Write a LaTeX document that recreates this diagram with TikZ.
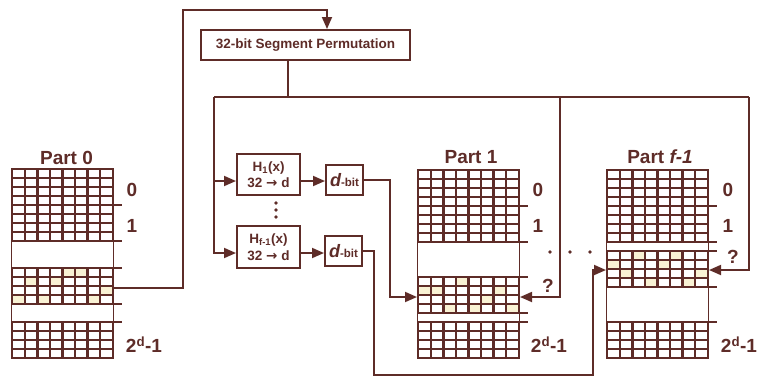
\documentclass[tikz,border=0pt]{standalone}
\usepackage{fontspec}
\setmainfont{Liberation Sans}
\newfontfamily\arrfont{DejaVu Sans}
\usetikzlibrary{arrows.meta,positioning}

\definecolor{brn}{RGB}{94,44,40}
\definecolor{hilite}{RGB}{249,242,212}

% one block of 8 columns: left, top, rows
\newcommand{\cellblock}[3]{%
  \fill[brn] (#1,#2) rectangle (#1+103,#2+#3*9+2.4);
  \foreach \c in {0,...,7}
    \foreach \r in {1,...,#3}
      \fill[white] (#1+2.4+\c*12.575,#2+\r*9-6.6) rectangle ++(10.175,6.6);
}
% a marked cell: left, top, column, row
\newcommand{\hicell}[4]{%
  \fill[hilite] (#1+2.4+#3*12.575,#2+2.4+#4*9) rectangle ++(10.175,6.6);
}
\newcommand{\dbit}{{\fontsize{18}{18}\selectfont\itshape d}\fontsize{11.5}{11.5}\selectfont -bit}
\newcommand{\maps}{{\arrfont →}}

\begin{document}
\begin{tikzpicture}[x=1pt,y=-1pt,
  conn/.style={draw=brn,line width=1.8pt},
  arr/.style={conn,-{Triangle[length=12pt,width=10pt]}},
  box/.style={draw=brn,line width=2pt,fill=white,inner sep=0pt,text=brn},
  tickln/.style={draw=brn,line width=1.5pt},
  side/.style={draw=brn,line width=0.8pt},
  lbl/.style={text=brn,inner sep=0pt,font=\fontsize{19}{19}\selectfont\bfseries}]

  \useasboundingbox (0,0) rectangle (758,376);

  % Part 0
  \draw[side] (11.4,169) -- (11.4,359) (113.6,169) -- (113.6,359);
  \cellblock{11}{168}{8}
  \cellblock{11}{267}{4}
  \cellblock{11}{321}{4}
  \foreach \c/\r in {4/0,5/0,1/1,3/1,7/2,0/3,2/3,6/3}
    \hicell{11}{267}{\c}{\r};
  \foreach \y in {205.2,241.2,268.2,304.2,322.2}
    \draw[tickln] (114,\y) -- ++(8,0);

  % Part 1
  \draw[side] (417.4,170) -- (417.4,359) (519.6,170) -- (519.6,359);
  \cellblock{417}{169}{8}
  \cellblock{417}{276}{4}
  \cellblock{417}{321}{4}
  \foreach \c/\r in {3/0,0/1,1/1,6/1,5/2,2/3,4/3,7/3}
    \hicell{417}{276}{\c}{\r};
  \foreach \y in {206.2,242.2,277.2,313.2,322.2}
    \draw[tickln] (520,\y) -- ++(8,0);

  % Part f-1
  \draw[side] (606.4,170) -- (606.4,359) (708.6,170) -- (708.6,359);
  \cellblock{606}{169}{8}
  \cellblock{606}{250}{4}
  \cellblock{606}{321}{4}
  \foreach \c/\r in {2/0,5/0,0/1,4/1,1/2,7/2,3/3,6/3}
    \hicell{606}{250}{\c}{\r};
  \foreach \y in {206.2,242.2,251.2,287.2,322.2}
    \draw[tickln] (709,\y) -- ++(8,0);

  % labels
  \node[lbl] (part0) at (66.5,158) {Part 0};
  \node[lbl] (part1) at (471,157) {Part 1};
  \node[lbl] (partf) at (660,157) {Part \textit{f-1}};
  \node[lbl] (p0a) at (132,190) {0};
  \node[lbl] (p0b) at (132,226) {1};
  \node[lbl] (p0c) at (144,345) {2\textsuperscript{d}-1};
  \node[lbl] (p1a) at (538,190) {0};
  \node[lbl] (p1b) at (538,226) {1};
  \node[lbl] (p1q) at (548,286) {?};
  \node[lbl] (p1c) at (549,345) {2\textsuperscript{d}-1};
  \node[lbl] (pfa) at (728,190) {0};
  \node[lbl] (pfb) at (728,226) {1};
  \node[lbl] (pfq) at (733,257) {?};
  \node[lbl] (pfc) at (739,345) {2\textsuperscript{d}-1};

  % boxes
  \node[box,minimum width=209pt,minimum height=30pt,
        font=\fontsize{13.5}{15}\selectfont\bfseries] (perm) at (305.5,45)
        {32-bit Segment Permutation};
  \node[box,minimum width=63pt,minimum height=41pt,align=center,
        font=\fontsize{13.5}{16.5}\selectfont\bfseries] (h1) at (268.5,174.5)
        {H\textsubscript{1}(x)\\32 \maps{} d};
  \node[box,minimum width=63pt,minimum height=42pt,align=center,
        font=\fontsize{13.5}{16.5}\selectfont\bfseries] (hf) at (268.5,247)
        {H\textsubscript{f-1}(x)\\32 \maps{} d};
  \node[box,minimum width=37pt,minimum height=30pt,font=\bfseries] (db1) at (344.5,180) {\dbit};
  \node[box,minimum width=37pt,minimum height=30pt,font=\bfseries] (db2) at (343.5,251) {\dbit};

  % dots
  \foreach \y in {203,210,217}
    \fill[brn] (276,\y) circle (1.9);
  \foreach \x in {550,570,590}
    \fill[brn] (\x,252) circle (1.9);

  % connectors
  \coordinate (p0out) at (114,288);
  \coordinate (upturn) at (183,10);
  \coordinate (busL) at (214,97);
  \coordinate (busM) at (560,97);
  \coordinate (busR) at (749,97);
  \coordinate (p1in) at (417,297);
  \coordinate (p1out) at (520,297);
  \coordinate (pfin) at (606,270);
  \coordinate (pfout) at (709,270);
  \coordinate (lowturn) at (374,375);

  \draw[arr] (p0out) -| (upturn) -| ([xshift=21.5pt]perm.north);
  \draw[conn] ([xshift=-17.5pt]perm.south) -- ([xshift=-17.5pt]perm.south |- busL);
  \draw[conn] (busL) -- (busR);
  \draw[arr] (busL) |- ([yshift=-6.5pt]h1.west);
  \draw[arr] (busL) |- ([yshift=-6pt]hf.west);
  \draw[arr] ([yshift=-6.5pt]h1.east) -- ([yshift=-6.5pt]h1.east -| db1.west);
  \draw[arr] ([yshift=-6pt]hf.east) -- ([yshift=-6pt]hf.east -| db2.west);
  \draw[arr] (db1.east) -| ([xshift=-27pt]p1in) -- (p1in);
  \draw[arr] (db2.east) -| (lowturn) -| ([xshift=-13pt]pfin) -- (pfin);
  \draw[arr] (busM) |- (p1out);
  \draw[arr] (busR) |- (pfout);
\end{tikzpicture}
\end{document}
